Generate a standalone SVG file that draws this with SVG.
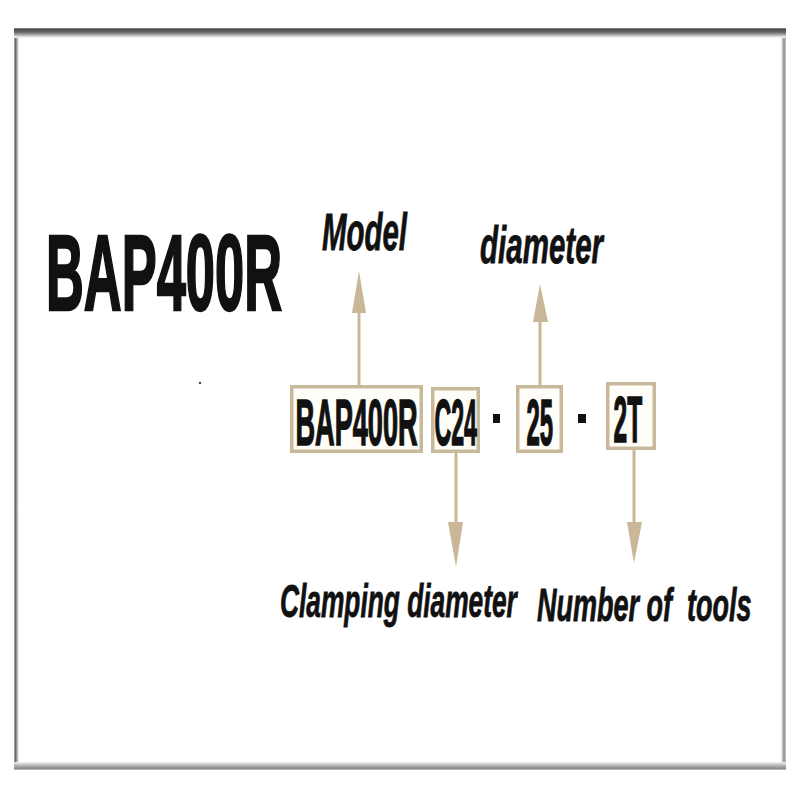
<svg xmlns="http://www.w3.org/2000/svg" width="800" height="800" viewBox="0 0 800 800">
  <defs>
    <linearGradient id="gTop" x1="0" y1="0" x2="0" y2="1">
      <stop offset="0" stop-color="#9a9a9a"/>
      <stop offset="0.15" stop-color="#4a4a4a"/>
      <stop offset="0.45" stop-color="#707070"/>
      <stop offset="1" stop-color="#ffffff"/>
    </linearGradient>
    <linearGradient id="gBottom" x1="0" y1="0" x2="0" y2="1">
      <stop offset="0" stop-color="#f2f2f2"/>
      <stop offset="0.6" stop-color="#a0a0a0"/>
      <stop offset="0.85" stop-color="#8a8a8a"/>
      <stop offset="1" stop-color="#d0d0d0"/>
    </linearGradient>
    <linearGradient id="gLeft" x1="0" y1="0" x2="1" y2="0">
      <stop offset="0" stop-color="#bbbbbb"/>
      <stop offset="0.3" stop-color="#6a6a6a"/>
      <stop offset="1" stop-color="#ffffff"/>
    </linearGradient>
    <linearGradient id="gRight" x1="0" y1="0" x2="1" y2="0">
      <stop offset="0" stop-color="#ffffff"/>
      <stop offset="0.6" stop-color="#8a8a8a"/>
      <stop offset="1" stop-color="#cccccc"/>
    </linearGradient>
    <style>
      .box { fill: #fffdf7; stroke: #c9b99b; stroke-width: 3.5; }
      .code { font-family: "Liberation Sans", Arial, sans-serif; font-weight: bold; font-size: 64px; fill: #111; stroke: #111; stroke-width: 1.6; }
      .title { font-family: "Liberation Sans", Arial, sans-serif; font-weight: bold; font-size: 107px; fill: #111; stroke: #111; stroke-width: 2.5; }
      .label { font-family: "Liberation Sans", Arial, sans-serif; font-weight: bold; font-style: italic; fill: #111; stroke: #111; stroke-width: 0.8; }
      .conn { stroke: #c9b797; stroke-width: 3; fill: none; }
      .head { fill: #c9b797; }
      .dash { fill: #111; }
    </style>
  </defs>

  <rect x="0" y="0" width="800" height="800" fill="#ffffff"/>

  <g id="frame">
    <rect x="14" y="28" width="5" height="742" fill="url(#gLeft)"/>
    <rect x="781" y="28" width="5" height="742" fill="url(#gRight)"/>
    <rect x="14" y="28" width="772" height="10" fill="url(#gTop)"/>
    <rect x="14" y="762" width="772" height="8" fill="url(#gBottom)"/>
  </g>

  <g id="title">
    <text class="title" transform="translate(46,310) scale(0.49,1)">BAP400R</text>
  </g>

  <circle cx="200" cy="383" r="1.2" fill="#444"/>

  <g id="connectors">
    <line class="conn" x1="359" y1="385" x2="359" y2="311"/>
    <polygon class="head" points="359,271 352,313 366,313"/>
    <line class="conn" x1="540" y1="385" x2="540" y2="320"/>
    <polygon class="head" points="540,284 533,322 548,322"/>
    <line class="conn" x1="456" y1="453" x2="456" y2="524"/>
    <polygon class="head" points="448,522 463,522 456,567"/>
    <line class="conn" x1="634" y1="450" x2="634" y2="524"/>
    <polygon class="head" points="627,522 642,522 634,563"/>
  </g>

  <g id="node-model">
    <rect class="box" x="291.75" y="386.75" width="129.5" height="64.5"/>
    <text class="code" transform="translate(295.5,445) scale(0.424,1)">BAP400R</text>
  </g>
  <g id="node-clamp">
    <rect class="box" x="432.75" y="388.75" width="45.5" height="62.5"/>
    <text class="code" transform="translate(434.5,445) scale(0.362,1)">C24</text>
  </g>
  <rect class="dash" x="493" y="414" width="7" height="9"/>
  <g id="node-diameter">
    <rect class="box" x="517.75" y="386.75" width="43.5" height="64.5"/>
    <text class="code" transform="translate(526.5,445) scale(0.375,1)">25</text>
  </g>
  <rect class="dash" x="578" y="414" width="8" height="9"/>
  <g id="node-tools">
    <rect class="box" x="607.75" y="383.75" width="46.5" height="64.5"/>
    <text class="code" transform="translate(613.5,442) scale(0.384,1)">2T</text>
  </g>

  <g id="label-model">
    <text class="label" font-size="52" transform="translate(322,250) scale(0.566,1)">Model</text>
  </g>
  <g id="label-diameter">
    <text class="label" font-size="52" transform="translate(480,263) scale(0.568,1)">diameter</text>
  </g>
  <g id="label-clamping">
    <text class="label" font-size="47" transform="translate(280,617) scale(0.56,1)">Clamping diameter</text>
  </g>
  <g id="label-tools">
    <text class="label" font-size="47" transform="translate(537,621) scale(0.575,1)" style="white-space:pre">Number of  tools</text>
  </g>
</svg>
